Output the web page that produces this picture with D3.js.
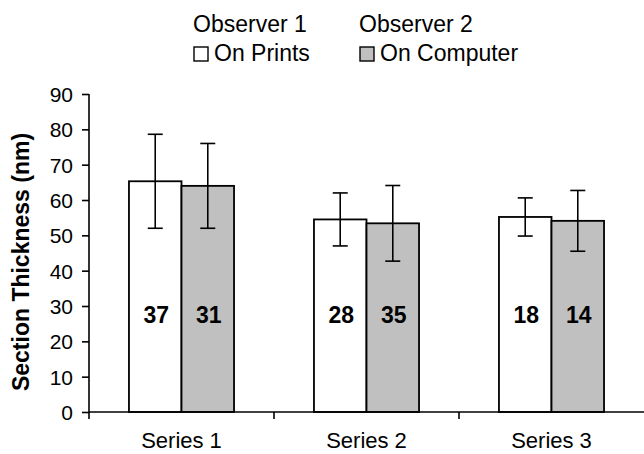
<!DOCTYPE html>
<html><head><meta charset="utf-8">
<script src="https://cdn.jsdelivr.net/npm/d3@7"></script>
<style>body{margin:0;background:#fff}svg{display:block;font-family:"Liberation Sans",Arial,sans-serif}</style>
</head><body>
<script>
const categories = ["Series 1", "Series 2", "Series 3"];
const seriesNames = ["On Prints", "On Computer"];
const observerNames = ["Observer 1", "Observer 2"];
const printsMean = [65.3, 54.5, 55.2];
const printsErr = [13.3, 7.5, 5.4];
const computerMean = [64.0, 53.4, 54.1];
const computerErr = [12.0, 10.7, 8.6];
const printsN = [37, 28, 18];
const computerN = [31, 35, 14];
const yTicks = [0, 10, 20, 30, 40, 50, 60, 70, 80, 90];

const W = 644, H = 454;
const svg = d3.select("body").append("svg").attr("width", W).attr("height", H);
const x0 = 89, x1 = 644, yTop = 94, yBot = 412;
const x = d3.scaleBand().domain(categories).range([x0, x1]).paddingInner(0.432).paddingOuter(0.216);
const sub = d3.scaleBand().domain(seriesNames).range([0, x.bandwidth()]);
const y = d3.scaleLinear().domain([0, 90]).range([yBot, yTop]);
const colors = {"On Prints": "#ffffff", "On Computer": "#c0c0c0"};

const data = [];
categories.forEach((c, i) => {
  data.push({cat: c, s: "On Prints", v: printsMean[i], e: printsErr[i], n: printsN[i]});
  data.push({cat: c, s: "On Computer", v: computerMean[i], e: computerErr[i], n: computerN[i]});
});

// bars
svg.selectAll("rect.bar").data(data).join("rect").attr("class", "bar")
  .attr("x", d => x(d.cat) + sub(d.s))
  .attr("y", d => y(d.v))
  .attr("width", sub.bandwidth())
  .attr("height", d => y(0) - y(d.v))
  .attr("fill", d => colors[d.s]).attr("stroke", "#000").attr("stroke-width", 1.8);

// error bars
const eb = svg.selectAll("g.eb").data(data).join("g").attr("class", "eb")
  .attr("stroke", "#000").attr("stroke-width", 1.6);
eb.append("line").attr("x1", d => x(d.cat) + sub(d.s) + sub.bandwidth()/2)
  .attr("x2", d => x(d.cat) + sub(d.s) + sub.bandwidth()/2)
  .attr("y1", d => y(d.v + d.e)).attr("y2", d => y(d.v - d.e));
[1, -1].forEach(sg => {
  eb.append("line").attr("x1", d => x(d.cat) + sub(d.s) + sub.bandwidth()/2 - 7.5)
    .attr("x2", d => x(d.cat) + sub(d.s) + sub.bandwidth()/2 + 7.5)
    .attr("y1", d => y(d.v + sg*d.e)).attr("y2", d => y(d.v + sg*d.e));
});

// count labels
svg.selectAll("text.n").data(data).join("text").attr("class", "n")
  .attr("x", d => x(d.cat) + sub(d.s) + sub.bandwidth()/2 + 1)
  .attr("y", 323).attr("text-anchor", "middle")
  .attr("font-size", 23).attr("font-weight", "bold").text(d => d.n);

// y axis
const yAxis = d3.axisLeft(y).tickValues(yTicks).tickSize(7).tickPadding(9);
const ga = svg.append("g").attr("transform", `translate(${x0},0)`).call(yAxis);
ga.select(".domain").attr("d", `M0,${yTop}V${yBot}`).attr("stroke-width", 1.6);
ga.selectAll(".tick line").attr("stroke-width", 1.6);
ga.selectAll(".tick text").attr("font-size", 21).attr("font-family", "Liberation Sans, Arial, sans-serif").attr("fill", "#000").attr("dy", "0.36em");

// x axis
const gx = svg.append("g").attr("transform", `translate(0,${yBot})`);
gx.append("line").attr("x1", x0).attr("x2", x1).attr("stroke", "#000").attr("stroke-width", 1.6);
const sep = [x0, ...categories.slice(1).map(c => x(c) - x.step()*x.paddingInner()/2)];
gx.selectAll("line.t").data(sep).join("line").attr("class", "t")
  .attr("x1", d => d).attr("x2", d => d).attr("y1", 0).attr("y2", 7)
  .attr("stroke", "#000").attr("stroke-width", 1.6);
gx.selectAll("text").data(categories).join("text")
  .attr("x", d => x(d) + x.bandwidth()/2).attr("y", 36)
  .attr("text-anchor", "middle").attr("font-size", 22).text(d => d);

// y title
svg.append("text").attr("transform", `translate(29,262) rotate(-90)`)
  .attr("text-anchor", "middle").attr("font-size", 23).attr("font-weight", "bold")
  .text("Section Thickness (nm)");

// legend
const leg = [{o: observerNames[0], s: seriesNames[0], x: 193}, {o: observerNames[1], s: seriesNames[1], x: 359}];
leg.forEach(l => {
  svg.append("text").attr("x", l.x).attr("y", 32).attr("font-size", 23).text(l.o);
  svg.append("rect").attr("x", l.x + 1).attr("y", 47).attr("width", 14).attr("height", 14)
    .attr("fill", colors[l.s]).attr("stroke", "#000").attr("stroke-width", 1.4);
  svg.append("text").attr("x", l.x + 21).attr("y", 61).attr("font-size", 23).text(l.s);
});
</script>
</body></html>
